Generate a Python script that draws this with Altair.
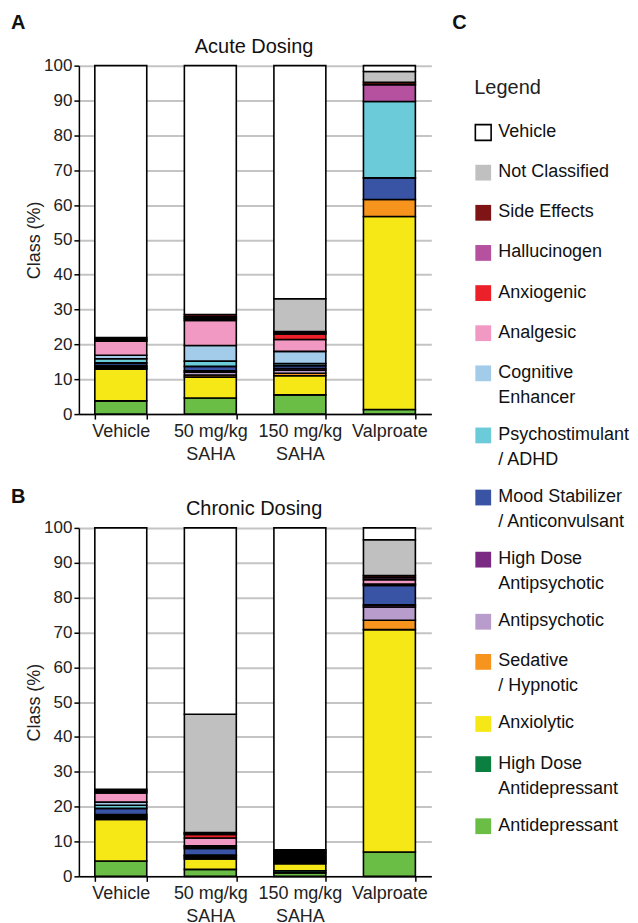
import altair as alt
import pandas as pd

FONT = "Liberation Sans"

# stacking order, bottom to top
classes = ["Antidepressant", "High Dose|Antidepressant", "Anxiolytic", "Sedative|/ Hypnotic",
           "Antipsychotic", "High Dose|Antipsychotic", "Mood Stabilizer|/ Anticonvulsant",
           "Psychostimulant|/ ADHD", "Cognitive|Enhancer", "Analgesic", "Anxiogenic",
           "Hallucinogen", "Side Effects", "Not Classified", "Vehicle"]
colors = ["#6abd45", "#0b7f40", "#f6e816", "#f7941d", "#b89ccb", "#7b2a84", "#3953a5",
          "#6bcbd9", "#a3cbea", "#f199c2", "#ec2028", "#b5519f", "#7f1416", "#c0c0c0", "#ffffff"]
groups = ["Vehicle", "50 mg/kg|SAHA", "150 mg/kg|SAHA", "Valproate"]

# values (%) per group, in class order above
acute_vehicle = [3.8, 0, 9.1, 0.3, 0.4, 0.3, 0.8, 1.2, 1.0, 4.0, 0.3, 0.3, 0.5, 0, 78.0]
acute_50 = [4.6, 0, 6.0, 0.6, 0.8, 0.4, 1.3, 1.5, 4.5, 7.2, 0.5, 0.5, 0.7, 0, 71.4]
acute_150 = [5.5, 0, 5.5, 0.7, 0.9, 0.5, 0.8, 0.6, 3.5, 3.4, 1.6, 0.3, 0.4, 9.4, 66.9]
acute_valproate = [1.3, 0, 55.4, 4.9, 0, 0, 6.2, 21.9, 0, 0, 0, 4.8, 0.7, 3.1, 1.7]

chronic_vehicle = [4.4, 0, 11.9, 0.4, 0.5, 0.5, 1.8, 0.9, 0.9, 2.6, 0.4, 0.3, 0.4, 0, 75.0]
chronic_50 = [2.0, 0, 3.0, 0.4, 0.4, 0.3, 1.9, 0.4, 0.4, 2.2, 1.0, 0.3, 0.3, 33.9, 53.5]
chronic_150 = [1.0, 0.6, 2.0, 0.4, 0.4, 0.4, 0.4, 0.4, 0.4, 0.4, 0.4, 0.4, 0.4, 0, 92.4]
chronic_valproate = [7.0, 0, 63.8, 2.7, 3.8, 0.6, 5.6, 0.4, 0, 1.2, 0, 0.6, 0.6, 10.3, 3.4]


def long_df(series_list):
    rows = []
    for g, vals in zip(groups, series_list):
        for i, (c, v) in enumerate(zip(classes, vals)):
            if v > 0:
                rows.append({"group": g, "cls": c, "idx": i, "value": v})
    return pd.DataFrame(rows)


acute_df = long_df([acute_vehicle, acute_50, acute_150, acute_valproate])
chronic_df = long_df([chronic_vehicle, chronic_50, chronic_150, chronic_valproate])

legend_domain = classes[::-1]
legend_range = colors[::-1]
legend_strokes = ["black"] + ["transparent"] * (len(classes) - 1)

W, H = 353, 349

# square swatch drawn a little lower so that it lines up with the first label line
SWATCH = "M-1,0.2 L1,0.2 L1,2.2 L-1,2.2 Z"

LEGEND = alt.Legend(
    title="Legend", orient="none", legendX=396, legendY=12, padding=0,
    titleFont=FONT, titleFontSize=20, titleFontWeight="normal",
    titleColor="#222", titlePadding=16.5,
    labelFont=FONT, labelFontSize=18, labelColor="#111",
    labelExpr="split(datum.label, '|')", labelBaseline="top",
    symbolType=SWATCH, symbolSize=250, symbolStrokeWidth=1.6,
    rowPadding=10.2, labelOffset=6, labelLimit=200)

X_ENC = alt.X("group:N", sort=groups,
              scale=alt.Scale(paddingInner=0.42, paddingOuter=0.178),
              axis=alt.Axis(title=None, labelAngle=0, labelExpr="split(datum.label, '|')",
                            tickBand="extent", domainColor="black", tickColor="black",
                            domainWidth=1.5, tickWidth=1.5, tickSize=5, labelFontSize=18,
                            labelFont=FONT, labelColor="#222", labelPadding=3,
                            labelLineHeight=23))
Y_ENC = alt.Y("value:Q", stack="zero",
              scale=alt.Scale(domain=[0, 100], nice=False),
              axis=alt.Axis(title="Class (%)", values=list(range(0, 101, 10)), grid=True,
                            gridColor="#c4c4c4", gridWidth=2, domainColor="black",
                            tickColor="black", domainWidth=1.5, tickWidth=1.5, tickSize=5,
                            labelFontSize=17, labelFont=FONT, labelColor="#222",
                            labelPadding=2, labelOverlap=False, titleFont=FONT,
                            titleFontSize=18, titleFontWeight="normal", titleColor="#222",
                            titlePadding=0))
COLOR_ENC = alt.Color("cls:N", scale=alt.Scale(domain=legend_domain, range=legend_range),
                      legend=LEGEND)


def text_layer(label, x, y, size, weight, align):
    one = pd.DataFrame({"a": [0]})
    return alt.Chart(one).mark_text(text=label, font=FONT, fontSize=size, fontWeight=weight,
                                    align=align, baseline="alphabetic", color="#111").encode(
        x=alt.value(x), y=alt.value(y))


def panel(df, title, letter, letter_y, extra_letter=None):
    bars = alt.Chart(df).mark_bar(stroke="black", strokeWidth=1.6).encode(
        x=X_ENC, y=Y_ENC, color=COLOR_ENC,
        order=alt.Order("idx:Q", sort="ascending"),
    )
    # empty layer that only contributes the legend swatch outline (Vehicle)
    outline = alt.Chart(df).transform_filter("false").mark_bar(stroke="black").encode(
        x=X_ENC, y=Y_ENC, color=COLOR_ENC,
        stroke=alt.Stroke("cls:N", scale=alt.Scale(domain=legend_domain, range=legend_strokes),
                          legend=LEGEND),
    )
    layers = [bars, outline,
              text_layer(title, W / 2 - 1, -13, 20, "normal", "center"),
              text_layer(letter, -68, letter_y, 20, "bold", "left")]
    if extra_letter:
        layers.append(text_layer(extra_letter, 374, letter_y, 20, "bold", "left"))
    return alt.layer(*layers).properties(width=W, height=H)


chart_a = panel(acute_df, "Acute Dosing", "A", -37, "C")
chart_b = panel(chronic_df, "Chronic Dosing", "B", -25)

chart = alt.vconcat(chart_a, chart_b, spacing=24).properties(
    padding={"left": 3, "top": 4, "right": 0, "bottom": 0}
).configure(
    style={"guide-label": {"lineHeight": 25}},
    view=alt.ViewConfig(stroke=None),
)

chart.save("out.html", embed_options={"renderer": "svg", "actions": False})
